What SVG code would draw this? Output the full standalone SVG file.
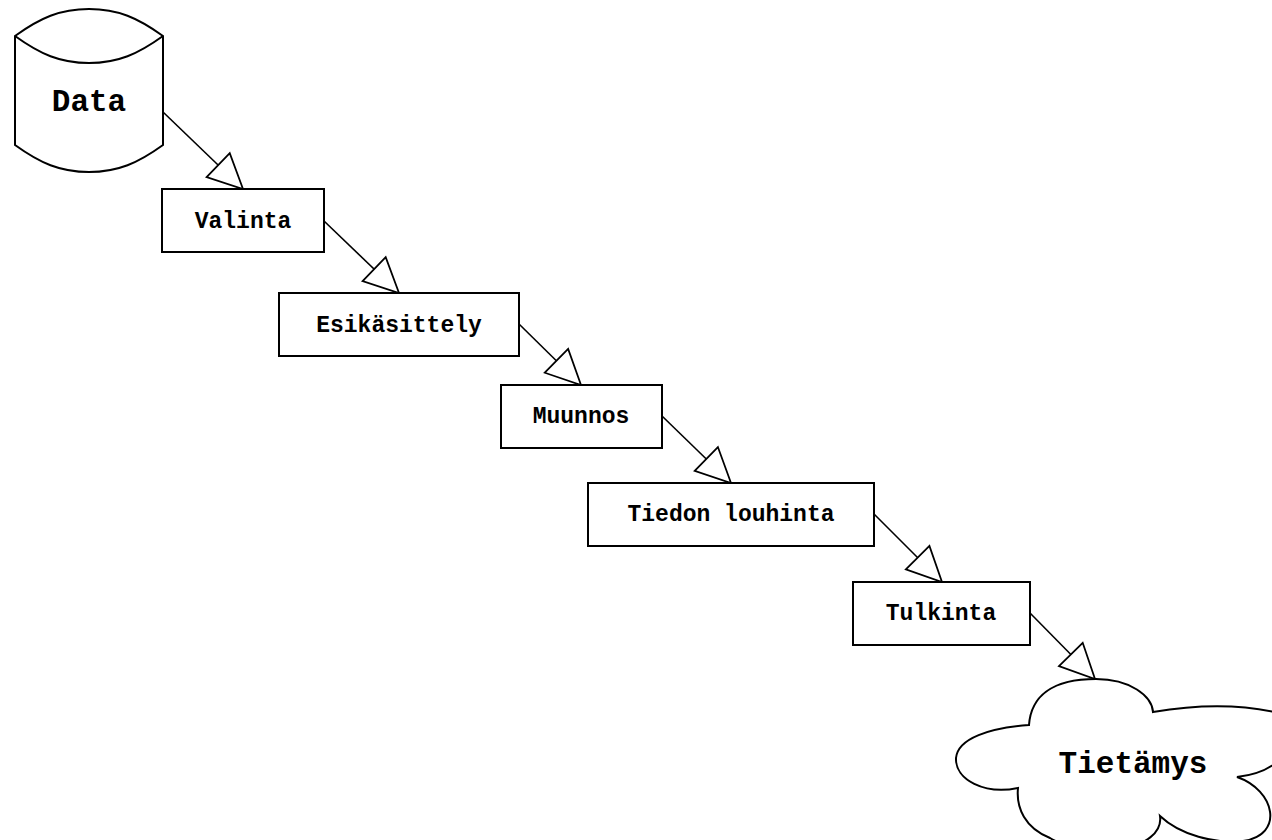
<svg xmlns="http://www.w3.org/2000/svg" width="1272" height="840" viewBox="0 0 1272 840">
<style>
.shape{fill:#fff;stroke:#000;stroke-width:2}
.rim{fill:none;stroke:#000;stroke-width:2}
.edge{fill:none;stroke:#000;stroke-width:1.6}
.big{font-family:"Liberation Mono","Courier New",monospace;font-weight:bold;font-size:31px;text-anchor:middle;fill:#000}
.lbl{font-family:"Liberation Mono","Courier New",monospace;font-weight:bold;font-size:23px;text-anchor:middle;fill:#000}
</style>
<defs>
<marker id="arr" markerUnits="userSpaceOnUse" markerWidth="40" markerHeight="40" viewBox="-34 -18 36 36" refX="0" refY="0" orient="auto">
<path d="M0,0 L-31,-15 L-31,15 Z" fill="#fff" stroke="#000" stroke-width="1.6" stroke-linejoin="miter"/>
</marker>
</defs>
<rect width="1272" height="840" fill="#fff"/>
<g id="connectors">
<line class="edge" x1="163" y1="112" x2="243" y2="189" marker-end="url(#arr)"/>
<line class="edge" x1="324" y1="221" x2="399" y2="293" marker-end="url(#arr)"/>
<line class="edge" x1="519" y1="324" x2="581" y2="385" marker-end="url(#arr)"/>
<line class="edge" x1="662" y1="416" x2="731" y2="483" marker-end="url(#arr)"/>
<line class="edge" x1="874" y1="514" x2="942" y2="582" marker-end="url(#arr)"/>
<line class="edge" x1="1030" y1="613" x2="1095" y2="679" marker-end="url(#arr)"/>
</g>
<g id="data">
<path class="shape" d="M15,36 C40,18 60,9 89,9 C118,9 138,18 163,36 L163,145 C138,163 118,172 89,172 C60,172 40,163 15,145 Z"/>
<path class="rim" d="M15,36 C40,54 60,63 89,63 C118,63 138,54 163,36"/>
<text class="big" x="89" y="111">Data</text>
</g>
<g id="valinta">
<rect class="shape" x="162" y="189" width="162" height="63"/>
<text class="lbl" x="243" y="228">Valinta</text>
</g>
<g id="esikasittely">
<rect class="shape" x="279" y="293" width="240" height="63"/>
<text class="lbl" x="399" y="332">Esikäsittely</text>
</g>
<g id="muunnos">
<rect class="shape" x="501" y="385" width="161" height="63"/>
<text class="lbl" x="581" y="423">Muunnos</text>
</g>
<g id="louhinta">
<rect class="shape" x="588" y="483" width="286" height="63"/>
<text class="lbl" x="731" y="521">Tiedon louhinta</text>
</g>
<g id="tulkinta">
<rect class="shape" x="853" y="582" width="177" height="63"/>
<text class="lbl" x="941" y="620">Tulkinta</text>
</g>
<g id="tietamys">
<path class="shape" d="M1029,725 C1031,698 1050,679 1096,679 C1130,679 1152,696 1153,712 C1195,705 1245,703 1290,716 C1300,745 1280,772 1237,777 C1275,790 1285,835 1243,841 C1215,844 1180,835 1160,816 C1165,850 1090,862 1050,838 C1025,828 1016,808 1018,788 C985,795 955,780 956,758 C958,738 990,728 1029,725 Z"/>
<text class="big" x="1133" y="773">Tietämys</text>
</g>
</svg>
